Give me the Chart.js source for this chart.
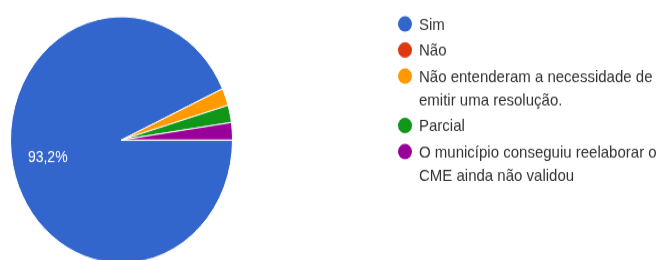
<!DOCTYPE html>
<html>
<head>
<meta charset="utf-8">
<script src="https://cdn.jsdelivr.net/npm/chart.js@4.4.0/dist/chart.umd.min.js"></script>
<style>
  html, body { margin: 0; padding: 0; background: #fff; overflow: hidden; width: 657px; height: 260px; }
  #outer { width: 657px; height: 260px; overflow: hidden; }
  /* the reference picture is stretched a bit vertically */
  #wrap { width: 657px; height: 240px; transform: scaleY(1.11); transform-origin: 0 0; }
</style>
</head>
<body>
<div id="outer"><div id="wrap"><canvas id="pie-chart"></canvas></div></div>
<script>
const categories = [
  "Sim",
  "Não",
  "Não entenderam a necessidade de emitir uma resolução.",
  "Parcial",
  "O município conseguiu reelaborar o CME ainda não validou"
];
const responses = [41, 0, 1, 1, 1];
const sliceColors = ["#3366cc", "#dc3912", "#ff9900", "#109618", "#990099"];

const FONT = '"Liberation Sans", Arial, sans-serif';

// percentage label inside big slices (like google forms)
const pctLabels = {
  id: "pctLabels",
  afterDatasetsDraw(chart) {
    const ctx = chart.ctx;
    const total = responses.reduce((a, b) => a + b, 0);
    const meta = chart.getDatasetMeta(0);
    ctx.save();
    ctx.fillStyle = "#fff";
    ctx.font = "14px " + FONT;
    ctx.textAlign = "center";
    ctx.textBaseline = "middle";
    meta.data.forEach((arc, i) => {
      const pct = responses[i] / total * 100;
      if (pct < 5) return;
      const p = arc.getProps(["x", "y", "startAngle", "endAngle", "outerRadius"], true);
      const mid = (p.startAngle + p.endAngle) / 2;
      const r = p.outerRadius * 0.68;
      const txt = pct.toFixed(1).replace(".", ",") + "%";
      ctx.fillText(txt, p.x + Math.cos(mid) * r, p.y + Math.sin(mid) * r);
    });
    ctx.restore();
  }
};

// legend on the right with wrapped text
const sideLegend = {
  id: "sideLegend",
  afterDraw(chart) {
    const ctx = chart.ctx;
    const dotX = 405, textX = 419, maxW = 238;
    const lineH = 21, gap = 2.5;
    let y = 21.6;
    ctx.save();
    ctx.font = "15px " + FONT;
    ctx.textBaseline = "middle";
    categories.forEach((label, i) => {
      // wrap words
      const words = label.split(" ");
      const lines = [];
      let cur = "";
      words.forEach(w => {
        const test = cur ? cur + " " + w : w;
        if (ctx.measureText(test).width > maxW && cur) {
          lines.push(cur);
          cur = w;
        } else {
          cur = test;
        }
      });
      lines.push(cur);

      ctx.fillStyle = sliceColors[i];
      ctx.beginPath();
      ctx.arc(dotX, y, 7, 0, Math.PI * 2);
      ctx.fill();

      ctx.fillStyle = "#333";
      lines.forEach((ln, k) => {
        ctx.fillText(ln, textX, y + k * lineH + 1);
      });
      y += lines.length * lineH + gap;
    });
    ctx.restore();
  }
};

new Chart(document.getElementById("pie-chart"), {
  type: "pie",
  data: {
    labels: categories,
    datasets: [{
      data: responses,
      backgroundColor: sliceColors,
      borderColor: "#fff",
      borderWidth: 1
    }]
  },
  options: {
    responsive: true,
    maintainAspectRatio: false,
    animation: false,
    rotation: 90,
    layout: {
      padding: { left: 10, right: 424, top: 14.6, bottom: 2.4 }
    },
    plugins: {
      legend: { display: false },
      tooltip: { enabled: false }
    }
  },
  plugins: [pctLabels, sideLegend]
});
</script>
</body>
</html>
